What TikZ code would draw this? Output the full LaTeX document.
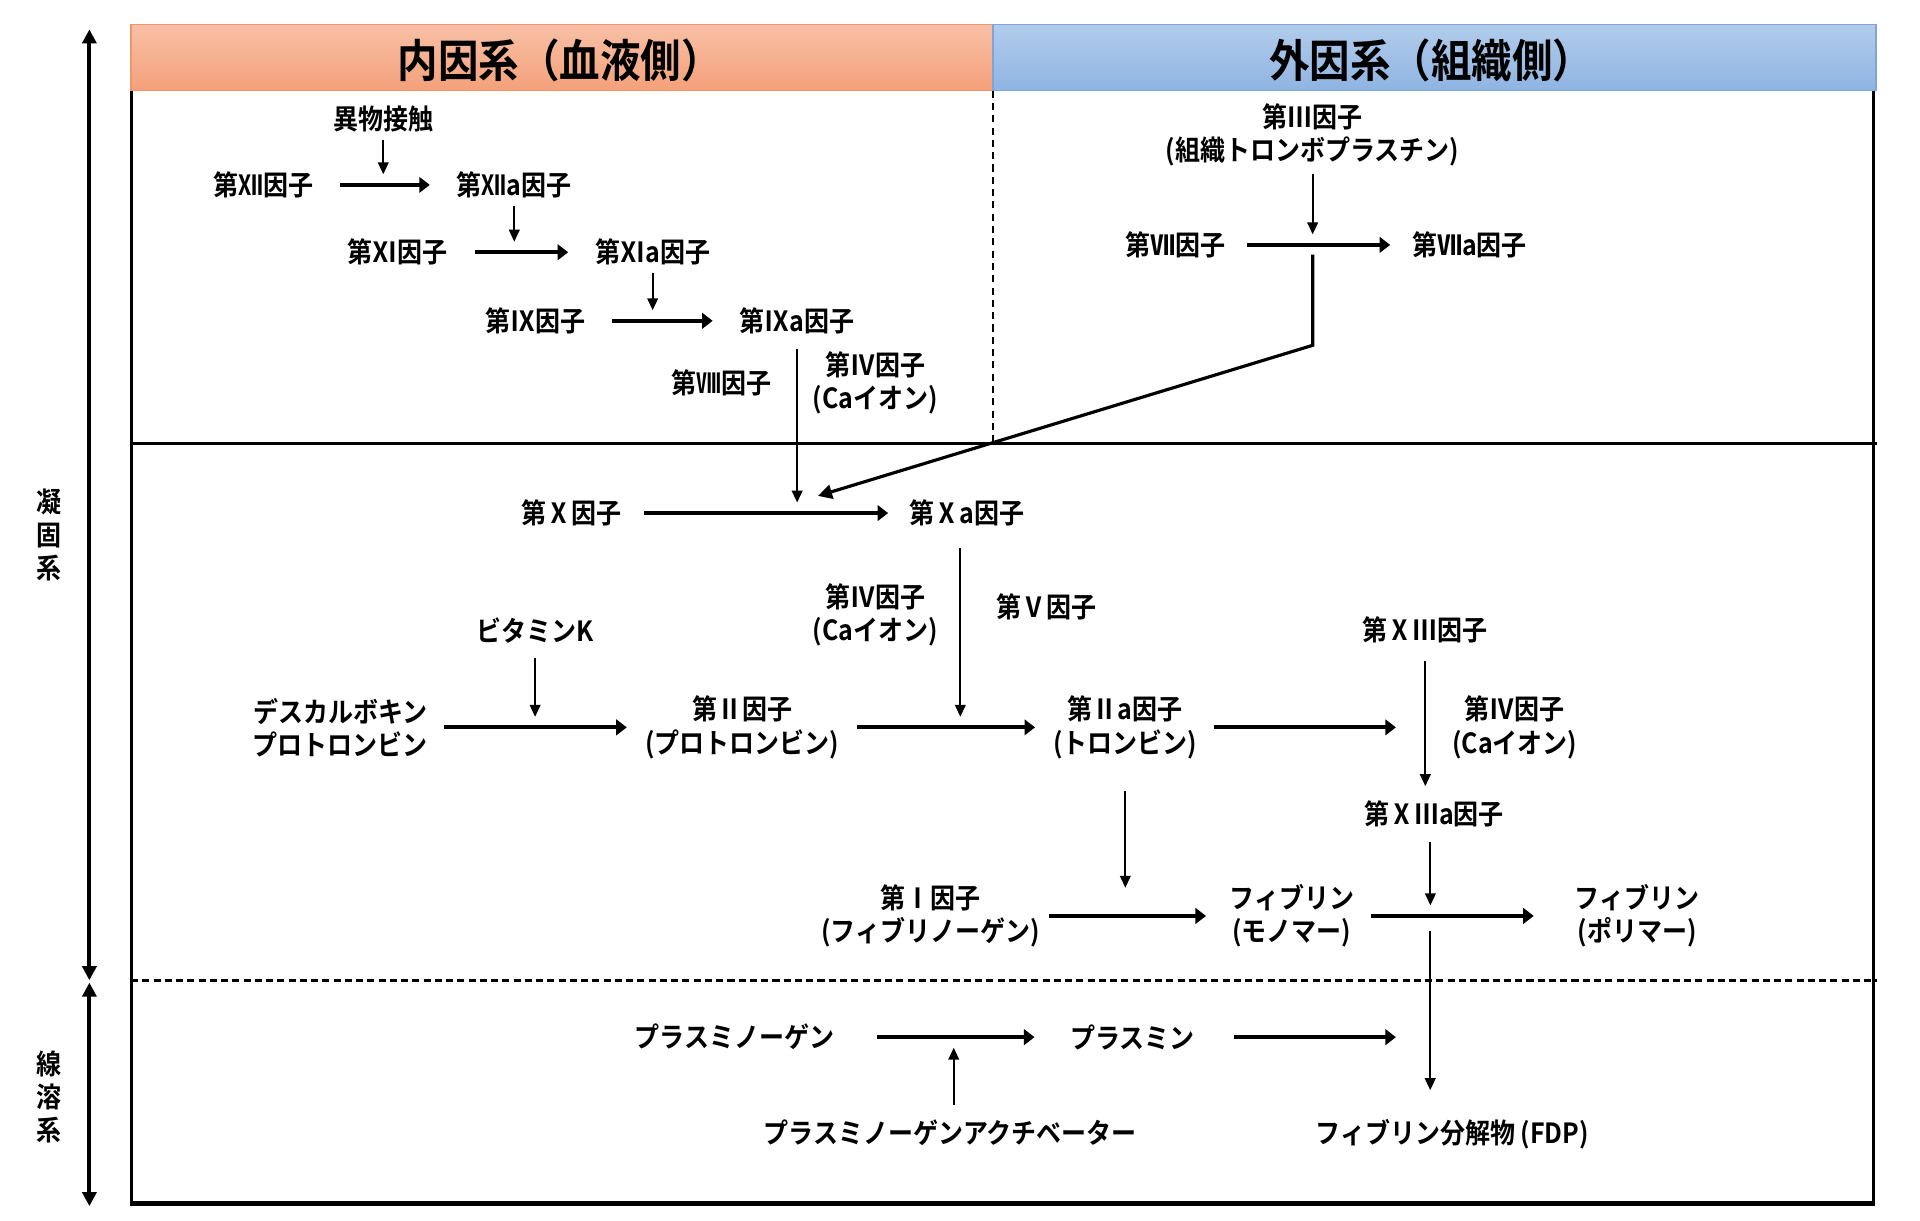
\documentclass[tikz,border=0pt]{standalone}
\usepackage{fontspec}
\setmainfont{Noto Sans CJK JP}[BoldFont=* Bold, FakeStretch=0.9]
\usetikzlibrary{arrows.meta,positioning,calc}

\definecolor{naiinTop}{RGB}{248,192,166}
\definecolor{naiinBot}{RGB}{244,160,122}
\definecolor{naiinEdge}{RGB}{240,150,110}
\definecolor{gaiinTop}{RGB}{178,204,235}
\definecolor{gaiinBot}{RGB}{143,180,226}
\definecolor{gaiinEdge}{RGB}{125,165,215}

\tikzset{
  lbl/.style={font=\bfseries\fontsize{7.9}{9.4}\selectfont, align=center, inner sep=0pt},
  hdr/.style={font=\bfseries\fontsize{12.8}{14}\selectfont, inner sep=0pt},
  rxn/.style={line width=1.1pt, -{Triangle[length=3pt,width=4.4pt]}, shorten <=6pt, shorten >=6pt},
  cat/.style={line width=0.6pt, -{Triangle[length=3.4pt,width=3pt]}, shorten <=2pt, shorten >=3pt},
  frame/.style={line width=0.85pt},
  side/.style={line width=1.1pt, {Triangle[length=4pt,width=4pt]}-{Triangle[length=4pt,width=4pt]}}
}

\begin{document}
\begin{tikzpicture}[x=0.012245cm, y=-0.012245cm]
    \useasboundingbox (0,0) rectangle (1568,997);

    % Headers
    \shade[top color=naiinTop, bottom color=naiinBot, draw=naiinEdge, line width=0.4pt] (107,20) rectangle (811,74);
    \shade[top color=gaiinTop, bottom color=gaiinBot, draw=gaiinEdge, line width=0.4pt] (811,20) rectangle (1532,74);
    \node[hdr] (naiin) at (457,49) {内因系（血液側）};
    \node[hdr] (gaiin) at (1169,49) {外因系（組織側）};

    % Frame and section lines
    \draw[frame] (107,74) -- (107,983);
    \draw[frame] (1530,74) -- (1530,983);
    \draw[frame] (107,362) -- (1533,362);
    \draw[line width=1.5pt] (106,983) -- (1531,983);
    \draw[line width=0.5pt, dash pattern=on 2pt off 1.5pt] (811,74) -- (811,362);
    \draw[line width=0.8pt, dash pattern=on 2pt off 1.2pt] (107,801) -- (1533,801);

    % Side arrows and labels
    \draw[side] (73,24) -- (73,800.5);
    \draw[side] (73,802.5) -- (73,985);
    \node[lbl] (gyoko) at (40,437) {凝\\固\\系};
    \node[lbl] (senyo) at (40,896) {線\\溶\\系};

    % Intrinsic pathway
    \node[lbl] (contact) at (313,97) {異物接触};
    \node[lbl] (f12) at (215,151) {第Ⅻ因子};
    \node[lbl] (f12a) at (420,151) {第Ⅻa因子};
    \node[lbl] (f11) at (325,206) {第Ⅺ因子};
    \node[lbl] (f11a) at (533,206) {第Ⅺa因子};
    \node[lbl] (f9) at (437,262) {第Ⅸ因子};
    \node[lbl] (f9a) at (651,262) {第Ⅸa因子};
    \node[lbl] (f8) at (589,313) {第Ⅷ因子};
    \node[lbl] (ca1) at (715,313) {第Ⅳ因子\\(Caイオン)};

    \draw[rxn, shorten <=7.5pt, shorten >=7.5pt] (f12) -- (f12a);
    \draw[rxn, shorten <=7.5pt, shorten >=7.5pt] (f11) -- (f11a);
    \draw[rxn, shorten <=7.5pt, shorten >=7.5pt] (f9) -- (f9a);
    \draw[cat] (contact) -- (contact |- f12);
    \draw[cat] (f12a) -- (f12a |- f11);
    \draw[cat] (f11a) -- (f11a |- f9);

    % Extrinsic pathway
    \node[lbl] (f3) at (1072,110) {第Ⅲ因子\\(組織トロンボプラスチン)};
    \node[lbl] (f7) at (960,200) {第Ⅶ因子};
    \node[lbl] (f7a) at (1200,200) {第Ⅶa因子};
    \draw[rxn] (f7) -- (f7a);
    \draw[cat] (f3) -- (f3 |- f7);

    % Common pathway
    \node[lbl] (f10) at (467,419) {第Ⅹ因子};
    \node[lbl] (f10a) at (790,419) {第Ⅹa因子};
    \draw[rxn] (f10) -- (f10a);
    \draw[cat, line width=0.7pt, shorten <=4pt] (f9a) -- (f9a |- f10);
    \coordinate (t7) at (1072,208);
    \coordinate (knee) at (1072,282);
    \coordinate (hitx) at (668,405);
    \draw[line width=0.9pt, -{Triangle[length=4pt,width=4pt]}] (t7) -- (knee) -- (hitx);

    \node[lbl] (ca2) at (715,502) {第Ⅳ因子\\(Caイオン)};
    \node[lbl] (f5) at (855,496) {第Ⅴ因子};
    \node[lbl] (vitk) at (437,515) {ビタミンK};
    \node[lbl] (dcp) at (278,594) {デスカルボキン\\プロトロンビン};
    \node[lbl] (f2) at (606,594) {第Ⅱ因子\\(プロトロンビン)};
    \node[lbl] (f2a) at (919,594) {第Ⅱa因子\\(トロンビン)};
    \draw[rxn, shorten <=4.5pt, shorten >=5pt] (dcp) -- (f2);
    \draw[rxn, shorten <=5pt, shorten >=5pt] (f2) -- (f2a);
    \draw[cat, shorten <=4pt] (vitk) -- (vitk |- f2);
    \draw[cat, shorten <=6pt] ([xshift=-2pt]f10a.south) -- ([xshift=-2pt]f10a.south |- f2);
    \coordinate (to13) at (1140,594);
    \draw[rxn, shorten <=4.5pt, shorten >=0pt] (f2a) -- (to13);

    \node[lbl] (f13) at (1164,514) {第ⅩⅢ因子};
    \node[lbl] (ca3) at (1237,594) {第Ⅳ因子\\(Caイオン)};
    \node[lbl] (f13a) at (1171,665) {第ⅩⅢa因子};
    \draw[cat, shorten <=5pt, shorten >=8pt] (f13) -- (f13 |- f13a);

    \node[lbl] (f1) at (760,748) {第Ⅰ因子\\(フィブリノーゲン)};
    \node[lbl] (fmono) at (1055,748) {フィブリン\\(モノマー)};
    \node[lbl] (fpoly) at (1337,748) {フィブリン\\(ポリマー)};
    \draw[rxn, shorten <=2.5pt, shorten >=6.5pt] (f1) -- (fmono);
    \draw[rxn, shorten <=4.5pt, shorten >=11.5pt] (fmono) -- (fpoly);
    \draw[cat, shorten <=9pt, shorten >=8pt] (f2a) -- (f2a |- f1);
    \draw[cat, shorten <=4pt] ([xshift=-1pt]f13a.south) -- ([xshift=-1pt]f13a.south |- fmono);

    % Fibrinolysis
    \node[lbl] (plg) at (600,847) {プラスミノーゲン};
    \node[lbl] (pls) at (925,847) {プラスミン};
    \node[lbl] (pa) at (776,925) {プラスミノーゲンアクチベーター};
    \node[lbl] (fdp) at (1186,926) {フィブリン分解物\ (FDP)};
    \draw[rxn, shorten <=12pt, shorten >=10pt] (plg) -- (pls);
    \coordinate (plsend) at (1140,847);
    \draw[rxn, shorten <=11pt, shorten >=0pt] (pls) -- (plsend);
    \draw[cat, shorten <=4pt] ([xshift=1pt]pa.north) -- ([xshift=1pt]pa.north |- plg);
    \coordinate (fx) at (1168,760);
    \draw[cat, shorten <=0pt, shorten >=8pt] (fx) -- (fx |- fdp.north);
\end{tikzpicture}
\end{document}
